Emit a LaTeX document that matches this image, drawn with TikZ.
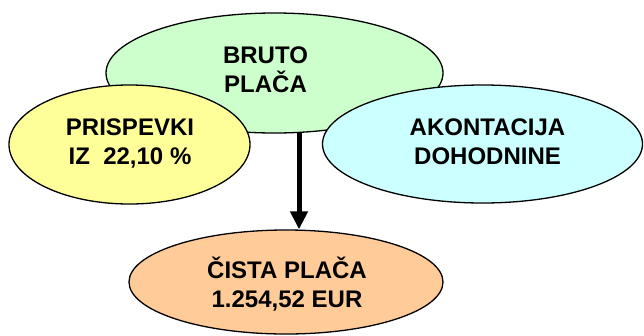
\documentclass[tikz,border=0pt]{standalone}
\usepackage{fontspec}
\setmainfont{Liberation Sans}
\usetikzlibrary{shapes.geometric,arrows.meta}
\definecolor{cgreen}{HTML}{CCFFCC}
\definecolor{cyellow}{HTML}{FFFF99}
\definecolor{ccyan}{HTML}{CCFFFF}
\definecolor{corange}{HTML}{FFCC99}
\tikzset{
  blob/.style={ellipse, draw=black, line width=1.3pt, inner sep=0pt},
  lbl/.style={align=center, font=\fontsize{24}{29}\selectfont\bfseries, inner sep=0pt},
  flow/.style={line width=5pt, -{Triangle[length=18pt,width=17pt]}}
}
\begin{document}
\begin{tikzpicture}[x=1pt,y=-1pt]
\useasboundingbox (0,0) rectangle (644,335);
\node[blob, fill=cgreen, minimum width=337pt, minimum height=120pt] (green) at (274.5,73) {};
\node[blob, fill=cyellow, minimum width=241pt, minimum height=119pt] (yellow) at (129.5,144.5) {};
\node[blob, fill=ccyan, minimum width=320pt, minimum height=118pt] (cyan) at (482.5,144) {};
\node[blob, fill=corange, minimum width=314pt, minimum height=104pt] (orange) at (286,282) {};
\coordinate (a1) at (299,132);
\draw[flow] (a1) -- (a1 |- orange.north);
\node[lbl] (tgreen) at (265.5,69.3) {BRUTO\\PLAČA};
\node[lbl] (tyellow) at (130,143) {PRISPEVKI\\IZ\ \ 22,10 \%};
\node[lbl] (tcyan) at (487.5,141.3) {AKONTACIJA\\DOHODNINE};
\node[lbl] (torange) at (287,284) {ČISTA PLAČA\\1.254,52 EUR};
\end{tikzpicture}
\end{document}
